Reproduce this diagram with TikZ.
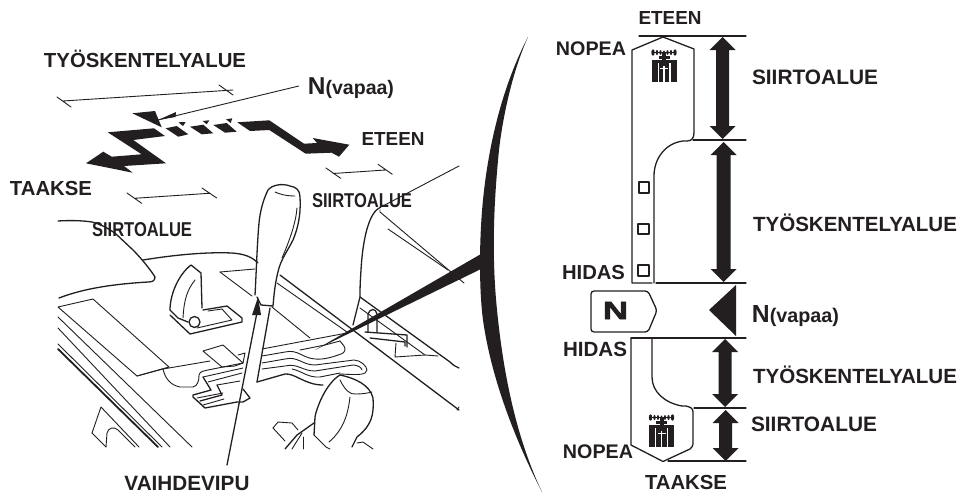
\documentclass[tikz,border=0pt]{standalone}
\usepackage{fontspec}
\setmainfont{Liberation Sans}[BoldFont={Liberation Sans Bold}]
\newfontfamily\heavyN{Liberation Sans Bold}[FakeBold=2.5]
\definecolor{ink}{HTML}{231F20}
\newcommand{\lbl}[2]{\resizebox{#1pt}{!}{\bfseries #2}}
\tikzset{
  thinl/.style={draw=ink,line width=0.9pt,line join=round,line cap=round},
  medl/.style={draw=ink,line width=1.3pt,line join=round,line cap=round},
  thickl/.style={draw=ink,line width=1.8pt,line join=round,line cap=round},
  lab/.style={text=ink,inner sep=0pt,anchor=center},
  icon/.pic={
    \fill[ink] (1.5,4.5) ellipse (1.7 and 3.2) (5.5,4.5) ellipse (1.2 and 2.6) (9,4.5) ellipse (1.2 and 2.4) (12.5,4.5) ellipse (1 and 2) (16,4.5) ellipse (1.2 and 2.4) (19.5,4.5) ellipse (1.2 and 2.6) (23.5,4.5) ellipse (1.7 and 3.2);
    \fill[ink] (1,4) rectangle (24,5.4);
    \fill[ink] (7,8) rectangle (18,11);
    \fill[ink] (10.5,4) rectangle (14.5,14);
    \fill[ink] (0,12) rectangle (25,34);
    \fill[white] (6,15) rectangle (7.4,34);
    \fill[white] (17.6,15) rectangle (19,34);
    \fill[white] (11.7,18) rectangle (13.3,34);
    \fill[white] (8.5,20) rectangle (16.5,21);
  }
}
\newcommand{\dblarr}[5]{% x, top y, bottom y, head half width, shaft half width
  \fill[ink] (#1,#2) -- (#1+#4,#2+13) -- (#1+#5,#2+13) -- (#1+#5,#3-13) -- (#1+#4,#3-13) -- (#1,#3) -- (#1-#4,#3-13) -- (#1-#5,#3-13) -- (#1-#5,#2+13) -- (#1-#4,#2+13) -- cycle;}
\begin{document}
\begin{tikzpicture}[x=1pt,y=-1pt]
\useasboundingbox (0,0) rectangle (959,493);
\fill[white] (0,0) rectangle (959,493);

% ---- zigzag shift pattern ----
\fill[ink] (107.7,132.3) -- (154,128.3) -- (165,136) -- (133.3,140) -- (166,163.3) -- (124,166) -- (132.7,172.7) -- (86,163.3) -- (103.3,151.7) -- (111.7,156.7) -- (141.7,154.3) -- cycle;
\fill[ink] (132.3,113.3) -- (155,111) -- (161.7,127.3) -- cycle;
\fill[ink] (165.7,128.3) -- (176.7,126) -- (188.3,134.3) -- (178.3,136.7) -- cycle;
\fill[ink] (190,126.7) -- (203.3,124.7) -- (213.3,133.3) -- (201.7,134.3) -- cycle;
\fill[ink] (213.3,125) -- (226.7,123) -- (236.7,131.7) -- (225,132.7) -- cycle;
\fill[ink] (178.3,122.3) -- (185.7,122) -- (183,126) -- cycle;
\fill[ink] (202.7,121) -- (209.3,120.3) -- (206.7,124.3) -- cycle;
\fill[ink] (226,119.3) -- (232.3,118.3) -- (230.7,123) -- cycle;
\fill[ink] (237.3,122.3) -- (269.3,120.3) -- (304,143.7) -- (317,143) -- (312.7,138) -- (349.3,144.7) -- (339,156.7) -- (331.7,152.7) -- (305.7,153.7) -- (269.3,130) -- (250,131) -- cycle;

% ---- dimension marks ----
\coordinate (a1) at (63,101); \coordinate (a2) at (233,90);
\draw[thinl] (a1) -- (a2) (57,97) -- (71,107) (219,85) -- (233,95);
\coordinate (b1) at (333,173.5); \coordinate (b2) at (385.5,170);
\draw[thinl] (b1) -- (b2) (326,168) -- (340.7,178.3) (378,164.3) -- (392.3,174.3);
\coordinate (c1) at (134.3,198.3); \coordinate (c2) at (209.3,193.3);
\draw[thinl] (c1) -- (c2) (127,193) -- (141.7,203.3) (202,188) -- (216.7,198);

% ---- labels left ----
\node[lab] (tyoL) at (145,59) {\lbl{202}{TYÖSKENTELYALUE}};
\node[lab] (nL) at (351,88) {\resizebox{86pt}{!}{\bfseries N{\footnotesize(vapaa)}}};
\node[lab] (etL) at (393,139) {\lbl{63}{ETEEN}};
\node[lab] (taL) at (51,189) {\lbl{82}{TAAKSE}};
\node[lab] (siL) at (142,230) {\resizebox{100pt}{14pt}{\bfseries SIIRTOALUE}};
\node[lab] (siR) at (362,201) {\resizebox{100pt}{14pt}{\bfseries SIIRTOALUE}};
\node[lab] (vaL) at (187,483) {\lbl{125}{VAIHDEVIPU}};

% ---- leader arrows ----
\coordinate (nTip) at (158,120);
\draw[thinl] (nL.west) ++(-9,-2) coordinate (nTail) -- (nTip);
\fill[ink] (nTip) -- (176,112) -- (175.5,117) -- cycle;
\coordinate (vTip) at (258,297);
\coordinate (vTail) at (227,465);
\draw[medl] (vTail) -- (256.5,315);
\fill[ink] (vTip) -- (261,315) -- (252,315) -- cycle;

% ---- machine: rear right seat ----
\draw[thinl] (459,166) -- (380,207.5);
\draw[medl] (380,207.5) .. controls (370,212) and (363,235) .. (361,270) .. controls (360,285) and (360,290) .. (360,297) -- (353,325);
\draw[thinl] (380,210) -- (380,212) -- (464,283);
\draw[thinl] (388,229) -- (448,270);
\draw[medl] (360,297) -- (450,362) .. controls (453,365) and (456,367) .. (459,368);
\draw[thinl] (360,308) -- (425,355) -- (438,356);
\draw[medl] (280,275) -- (459,410);
\draw[thinl] (277,283) -- (347,332);
\draw[thinl] (272,307) -- (310,338);
\draw[thinl] (459,407) -- (457,410);
% small lever
\draw[medl] (368,332) -- (368,314) .. controls (370,308) and (376,308) .. (377,314) -- (377,332);
\draw[medl] (365,332) -- (407,335) -- (407,347);
\draw[medl] (370,338) -- (405,342) -- (405,346);
\draw[thinl] (396,343) -- (395,357) (425,355) -- (395,357);

% ---- machine: left console ----
\draw[medl] (58,221) .. controls (75,220) and (85,221) .. (92,222) .. controls (100,224) and (108,228) .. (116,234) -- (133,250) .. controls (143,260) and (152,272) .. (155,277) .. controls (155,281) and (152,282) .. (148,282) .. controls (115,284) and (85,288) .. (59,298);
\draw[medl] (143,260) .. controls (180,254) and (210,252) .. (232,253) .. controls (245,254) and (252,257) .. (258,263);
\draw[thinl] (220,272) -- (255,269);
\draw[thinl] (220,272) -- (252,296);
\draw[thinl] (58,307) -- (93,299) -- (169,367) -- (137,376) -- cycle;
\draw[thinl] (58,317) -- (192,447);
\draw[thinl] (58,328) -- (170,447);
\draw[thinl] (58,344) -- (162,447);
\draw[thickl] (58,349) -- (158,447);
% small handle and gate
\draw[medl] (170,310) .. controls (170,295) and (178,275) .. (191,265) -- (201,273) -- (202,308);
\draw[thinl] (195,280) .. controls (187,290) and (184,300) .. (183,318);
\draw[medl] (170,310) -- (178,318) -- (188,322);
\draw[medl] (170,315) -- (190,334) -- (242,322) -- (242,318) -- (227,306) -- (203,310);
\draw[thinl] (208,311) -- (222,309) -- (232,320) -- (197,328);
\draw[medl] (194.5,322) circle (5.5);

% ---- main lever ----
\draw[medl] (255,295) .. controls (256,280) and (257,245) .. (259,223) .. controls (260,212) and (263,200) .. (268,190) .. controls (272,185) and (282,183) .. (290,186) .. controls (296,187) and (300,190) .. (300,197) .. controls (301,215) and (298,228) .. (293,240) .. controls (288,250) and (282,258) .. (279,268) .. controls (275,282) and (274,295) .. (273,306);
\draw[thinl] (275,192) .. controls (279,194) and (286,196) .. (295,196);
\draw[thinl] (297,208) .. controls (296,220) and (292,235) .. (282,258);
\draw[medl] (257,297) -- (261,305) -- (273,306);
\draw[medl] (270,308) -- (257,382);

% ---- gate plate ----
\draw[thinl] (137,376) -- (163,369) -- (210,361);
\draw[thinl] (163,369) .. controls (165,378) and (170,385) .. (180,387) -- (193,387) .. controls (198,386) and (199,380) .. (199,375) .. controls (200,371) and (204,371) .. (208,370) -- (243,363);
\draw[thinl] (203,351) -- (223,345) -- (243,363) -- (235,366) -- (222,367) -- cycle;
\draw[thinl] (238,355) -- (245,353) -- (243,363);
\draw[thinl] (203,377) -- (243,368);
\draw[thinl] (208,382) -- (242,373);
\draw[medl] (203,377) -- (211,390) -- (193,395) -- (193,397) -- (205,408) -- (237,402) -- (243,402) -- (250,398) -- (243,389);
\draw[thinl] (197,398) -- (223,393);
\draw[thinl] (217,385) -- (240,381);
\draw[medl] (217,385) -- (222,395) -- (200,401);
\draw[thinl] (203,405) -- (224,399);
% right of the shaft
\draw[thinl] (262,349) -- (347,333);
\draw[thinl] (262,356) -- (285,352) .. controls (298,349) and (302,358) .. (315,359) .. controls (325,360) and (335,356) .. (341,354) .. controls (345,353) and (346,349) .. (344,346) -- (340,341);
\draw[thinl] (300,350) -- (325,345) (340,341) -- (325,345);
\draw[thinl] (262,363) -- (285,359) .. controls (298,356) and (302,365) .. (315,365) -- (354,360) .. controls (360,360) and (367,366) .. (367,370) .. controls (366,375) and (360,375) .. (340,374);
\draw[thinl] (262,369) -- (285,366) .. controls (298,363) and (302,371) .. (315,371) -- (353,365) .. controls (358,365) and (362,368) .. (362,370);
\draw[thinl] (292,369) .. controls (302,371) and (308,378) .. (320,377) -- (340,373);
\draw[medl] (257,382) -- (285,374) .. controls (295,373) and (305,385) .. (323,385);

% ---- foreground handle ----
\draw[medl] (340,375) .. controls (325,384) and (316,410) .. (315,417) -- (314,435);
\draw[medl] (340,375) .. controls (355,378) and (370,385) .. (373,398) .. controls (374,415) and (372,425) .. (357,437) -- (352,447);
\draw[thinl] (340,380) .. controls (345,390) and (350,395) .. (356,394) .. controls (363,394) and (368,393) .. (372,392);
\draw[thinl] (350,397) .. controls (348,415) and (343,430) .. (329,442);
\draw[thinl] (273,428) -- (278,422) -- (292,423) -- (298,430);
\draw[thinl] (273,428) -- (285,441);
\draw[medl] (285,449) -- (297,435) -- (314,423);
\draw[thinl] (292,449) -- (302,433);
\draw[thinl] (303,449) -- (303,437);
\draw[thinl] (314,435) -- (326,447) -- (330,449);
\draw[thinl] (357,443) -- (363,442) -- (373,449);
% small bottom-left outline
\draw[thinl] (92,433) -- (101,407) -- (139,447);
\draw[thinl] (92,433) -- (106,447);
\draw[thinl] (106,447) -- (107,433) .. controls (108,428) and (114,426) .. (118,430) -- (135,447);

% ---- the big lens curve with wedge ----
\fill[ink] (315,350) -- (481,254) -- (481,269) -- cycle;
\fill[ink] (528,37) .. controls (508,75) and (490,130) .. (483,200) .. controls (479,240) and (479,290) .. (483,320) .. controls (490,370) and (510,430) .. (542,492) .. controls (515,435) and (503,370) .. (497,310) .. controls (492,260) and (493,210) .. (499,150) .. controls (503,115) and (513,70) .. (528,37) -- cycle;

% ---- right panel: outline ----
\draw[medl] (639,36) -- (746,36);
\draw[medl] (693,140) -- (746,140);
\draw[medl] (656,283) -- (746,283);
\draw[medl] (631,338) -- (746,338);
\draw[medl] (694,408) -- (746,408);
\draw[medl] (668,461) -- (746,461);
\draw[medl] (652,283) -- (632,283) -- (632,50) -- (663,37) -- (694,49) -- (694,132) .. controls (694,138) and (692,141) .. (687,141) -- (683,141) .. controls (666,143) and (654,158) .. (654,176) -- (654,283);
\draw[medl] (631,338) -- (631,445) -- (663,461.5) -- (690,449) .. controls (692,447) and (693,446) .. (693,444) -- (693,412) .. controls (693,408) and (690,407) .. (686,406) -- (682,406) .. controls (665,403) and (652,392) .. (652,377) -- (652,338);
\draw[medl] (639,182) rectangle (649,193);
\draw[medl] (638,224) rectangle (649,234);
\draw[medl] (638,265) rectangle (649,276);
\pic at (651.5,48) {icon};
\pic at (649,413) {icon};
\dblarr{722.5}{37}{139}{13}{6.5}
\dblarr{723.5}{142}{282}{13}{7}
\dblarr{725}{339}{407}{13}{6.5}
\dblarr{725.5}{410}{461}{13}{6.5}
\fill[ink] (736,285) -- (736,336) -- (709,310) -- cycle;
\draw[medl,rounded corners=3pt] (595,291) -- (648,291) -- (657,310.5) -- (648,332) -- (591,332) -- (591,291) -- (595,291);
\node[lab] (nTag) at (615.5,310.5) {\resizebox{25pt}{17pt}{\heavyN N}};

% ---- labels right ----
\node[lab] (etR) at (670,18) {\lbl{63}{ETEEN}};
\node[lab] (noT) at (591,49) {\lbl{70}{NOPEA}};
\node[lab] (siA) at (815,77) {\lbl{126}{SIIRTOALUE}};
\node[lab] (tyA) at (855,223) {\lbl{204}{TYÖSKENTELYALUE}};
\node[lab] (hiA) at (593.5,273) {\lbl{63}{HIDAS}};
\node[lab] (nR) at (795.5,316) {\resizebox{87pt}{!}{\bfseries N{\footnotesize(vapaa)}}};
\node[lab] (hiB) at (595,349) {\lbl{64}{HIDAS}};
\node[lab] (tyB) at (855,375) {\lbl{204}{TYÖSKENTELYALUE}};
\node[lab] (siB) at (814,424) {\lbl{126}{SIIRTOALUE}};
\node[lab] (noB) at (598,452) {\lbl{70}{NOPEA}};
\node[lab] (taR) at (686,483) {\lbl{82}{TAAKSE}};
\end{tikzpicture}
\end{document}
